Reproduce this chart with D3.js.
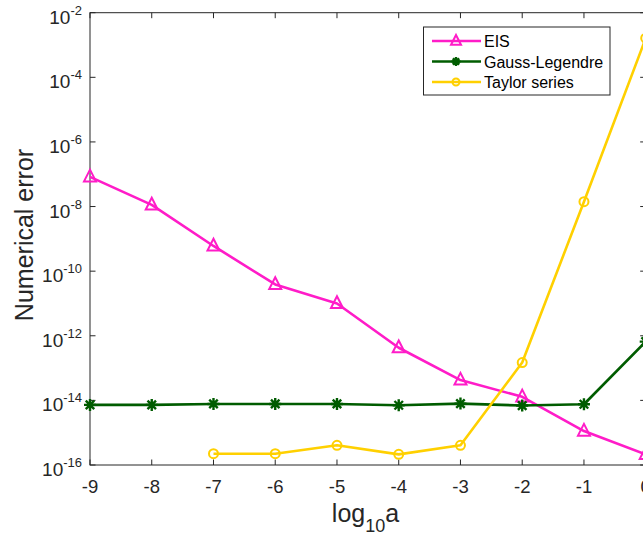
<!DOCTYPE html>
<html><head><meta charset="utf-8">
<script src="https://cdn.jsdelivr.net/npm/d3@7"></script>
<style>body{margin:0;background:#fff}svg{display:block;font-family:"Liberation Sans",Arial,sans-serif}</style>
</head><body><svg id="c" width="643" height="536"></svg>
<script>
const xValues = [-9,-8,-7,-6,-5,-4,-3,-2,-1,0];
const eisLog = [-7.08,-7.95,-9.22,-10.41,-11.0,-12.37,-13.37,-13.89,-14.95,-15.67];
const glLog = [-14.14,-14.14,-14.11,-14.11,-14.11,-14.15,-14.10,-14.16,-14.12,-12.18];
const taylorX = [-7,-6,-5,-4,-3,-2,-1,0];
const taylorLog = [-15.65,-15.65,-15.39,-15.67,-15.39,-12.83,-7.85,-2.79];
const yTickExp = [-16,-14,-12,-10,-8,-6,-4,-2];
const seriesNames = ["EIS","Gauss-Legendre","Taylor series"];
const colors = ["#ff1cc8","#005c00","#ffd000"];

const svg = d3.select("#c");
const L=90, R=645.7, T=12.7, B=465;
const x = d3.scaleLinear().domain([-9,0]).range([L,R]);
const y = d3.scaleLog().domain([1e-16,1e-2]).range([B,T]);

const g = svg.append("g");
g.append("rect").attr("x",L).attr("y",T).attr("width",R-L).attr("height",B-T)
 .attr("fill","none").attr("stroke","#262626").attr("stroke-width",1);

const tl=5.5;
xValues.forEach(v=>{
  const px=x(v);
  g.append("line").attr("x1",px).attr("x2",px).attr("y1",B).attr("y2",B-tl).attr("stroke","#262626");
  g.append("line").attr("x1",px).attr("x2",px).attr("y1",T).attr("y2",T+tl).attr("stroke","#262626");
  g.append("text").attr("x",px).attr("y",493).attr("text-anchor","middle")
   .attr("font-size",18.5).attr("fill","#262626").text(v);
});
yTickExp.forEach(e=>{
  const py=y(Math.pow(10,e));
  g.append("line").attr("x1",L).attr("x2",L+tl).attr("y1",py).attr("y2",py).attr("stroke","#262626");
  g.append("line").attr("x1",R).attr("x2",R-tl).attr("y1",py).attr("y2",py).attr("stroke","#262626");
  const t=g.append("text").attr("x",82).attr("y",py+11).attr("text-anchor","end")
   .attr("font-size",19).attr("fill","#262626");
  t.append("tspan").text("10");
  t.append("tspan").attr("dy",-9).attr("font-size",13).text(e);
});

const xl = svg.append("text").attr("x",365.5).attr("y",521.5).attr("text-anchor","middle")
 .attr("font-size",25).attr("fill","#262626");
xl.append("tspan").text("log");
xl.append("tspan").attr("dy",10).attr("font-size",18).text("10");
xl.append("tspan").attr("dy",-10).text("a");
svg.append("text").attr("transform","translate(33,235) rotate(-90)").attr("text-anchor","middle")
 .attr("font-size",25).attr("fill","#262626").text("Numerical error");

function marker(sel, type, cx, cy, color, s){
  if(type===0){
    const h=s;
    sel.append("path").attr("d",`M${cx},${cy-h*0.6}L${cx+h*0.5},${cy+h*0.38}L${cx-h*0.5},${cy+h*0.38}Z`)
      .attr("fill","none").attr("stroke",color).attr("stroke-width",2).attr("stroke-linejoin","miter");
  } else if(type===1){
    const r=s/2;
    let d="";
    for(let i=0;i<4;i++){const a=i*Math.PI/4;d+=`M${cx-r*Math.cos(a)},${cy-r*Math.sin(a)}L${cx+r*Math.cos(a)},${cy+r*Math.sin(a)}`;}
    sel.append("path").attr("d",d).attr("stroke",color).attr("stroke-width",2.4).attr("fill","none");
  } else {
    sel.append("circle").attr("cx",cx).attr("cy",cy).attr("r",s/2).attr("fill","none")
      .attr("stroke",color).attr("stroke-width",2);
  }
}

const data = [
  xValues.map((v,i)=>[v,Math.pow(10,eisLog[i])]),
  xValues.map((v,i)=>[v,Math.pow(10,glLog[i])]),
  taylorX.map((v,i)=>[v,Math.pow(10,taylorLog[i])])
];
const line = d3.line().x(d=>x(d[0])).y(d=>y(d[1]));
const plot = svg.append("g");
data.forEach((ds,k)=>{
  plot.append("path").datum(ds).attr("d",line).attr("fill","none")
   .attr("stroke",colors[k]).attr("stroke-width",2.6).attr("stroke-linejoin","round");
  ds.forEach(d=>marker(plot,k,x(d[0]),y(d[1]),colors[k],k===0?12:k===1?12:9));
});

const lg = svg.append("g");
lg.append("rect").attr("x",423.5).attr("y",27).attr("width",186.5).attr("height",68)
 .attr("fill","#fff").attr("stroke","#262626").attr("stroke-width",1);
seriesNames.forEach((n,i)=>{
  const ly=41+i*20.5;
  lg.append("line").attr("x1",432).attr("x2",481).attr("y1",ly).attr("y2",ly)
   .attr("stroke",colors[i]).attr("stroke-width",2.6);
  marker(lg,i,456,ly,colors[i],i===0?10:i===1?9:7);
  lg.append("text").attr("x",484).attr("y",ly+6).attr("font-size",16).attr("fill","#000").text(n);
});
</script></body></html>
